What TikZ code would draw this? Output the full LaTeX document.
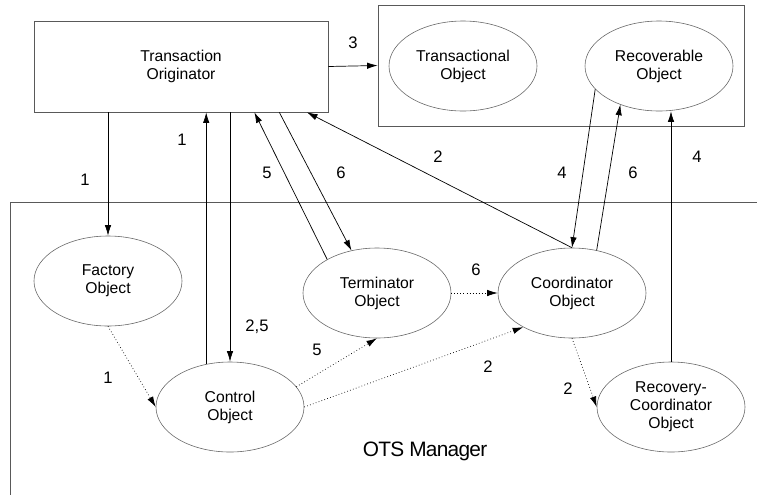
\documentclass[tikz,border=0pt]{standalone}
\usepackage{fontspec}
\setmainfont{Liberation Sans}
\usetikzlibrary{arrows.meta}
\usetikzlibrary{shapes.geometric}

\begin{document}
\begin{tikzpicture}[x=0.03cm, y=-0.03cm,
    font=\fontsize{13.4}{15.3}\selectfont,
    obj/.style={draw=black!60, line width=0.5pt, shape=ellipse,
        minimum width=4.44cm, minimum height=2.7cm, inner sep=0pt, align=center},
    box/.style={draw=black!65, line width=0.6pt, shape=rectangle, inner sep=0pt},
    call/.style={-{Latex[length=9pt,width=5.5pt]}, line width=0.6pt},
    async/.style={call, dotted},
    num/.style={font=\fontsize{14.2}{16}\selectfont}]
    \useasboundingbox (0,0) rectangle (757,495);

    \node[box, minimum width=8.82cm, minimum height=2.73cm, align=center] (orig)
        at (181,66.5) {Transaction\\Originator};
    \node[box, minimum width=10.98cm, minimum height=3.63cm] (objs) at (561,65.5) {};
    \node[obj] (trans) at (463,66) {Transactional\\Object};
    \node[obj] (recov) at (659,66) {Recoverable\\Object};

    \draw[black!65, line width=0.6pt] (757,202) -- (10,202) -- (10,495);
    \node[font=\fontsize{17.8}{20}\selectfont\addfontfeature{LetterSpace=-3.5}] (mgr)
        at (425,451) {OTS Manager};

    \node[obj] (fact) at (108,281) {Factory\\Object};
    \node[obj] (ctrl) at (230,407) {Control\\Object};
    \node[obj] (term) at (377,293) {Terminator\\Object};
    \node[obj] (coord) at (572,293) {Coordinator\\Object};
    \node[obj] (rcoord) at (671,407) {Recovery-\\Coordinator\\Object};

    \draw[call] (orig.east) -- (objs.west);
    \draw[call] (orig.south -| fact.north) -- (fact.north);
    \draw[call] (ctrl.119) -- (ctrl.119 |- orig.south);
    \draw[call] (orig.south -| ctrl.north) -- (ctrl.north);
    \draw[call] (term.146) -- (orig.328);
    \draw[call] (orig.335) -- (term.121);
    \draw[call] (coord.north) -- (orig.340);
    \draw[call] (recov.200) -- (coord.north);
    \draw[call] (coord.60) -- (recov.225);
    \draw[call] (rcoord.north) -- (rcoord.north |- recov.south);

    \draw[async] (fact.south) -- (ctrl.west);
    \draw[async] (ctrl.17) -- (term.south);
    \draw[async] (ctrl.east) -- (coord.215);
    \draw[async] (term.east) -- (coord.west);
    \draw[async] (coord.south) -- (rcoord.west);

    \node[num] (l3) at (353,43) {3};
    \node[num] (l1a) at (85,180) {1};
    \node[num] (l1b) at (182,140) {1};
    \node[num] (l5a) at (267,173) {5};
    \node[num] (l6a) at (341,173) {6};
    \node[num] (l2a) at (438,157) {2};
    \node[num] (l4a) at (562,173) {4};
    \node[num] (l6b) at (633,173) {6};
    \node[num] (l4b) at (697,157) {4};
    \node[num] (l25) at (257,327) {2,5};
    \node[num] (l5b) at (317,350) {5};
    \node[num] (l1c) at (108,378) {1};
    \node[num] (l6c) at (476,270) {6};
    \node[num] (l2b) at (488,367) {2};
    \node[num] (l2c) at (568,389) {2};
\end{tikzpicture}
\end{document}
